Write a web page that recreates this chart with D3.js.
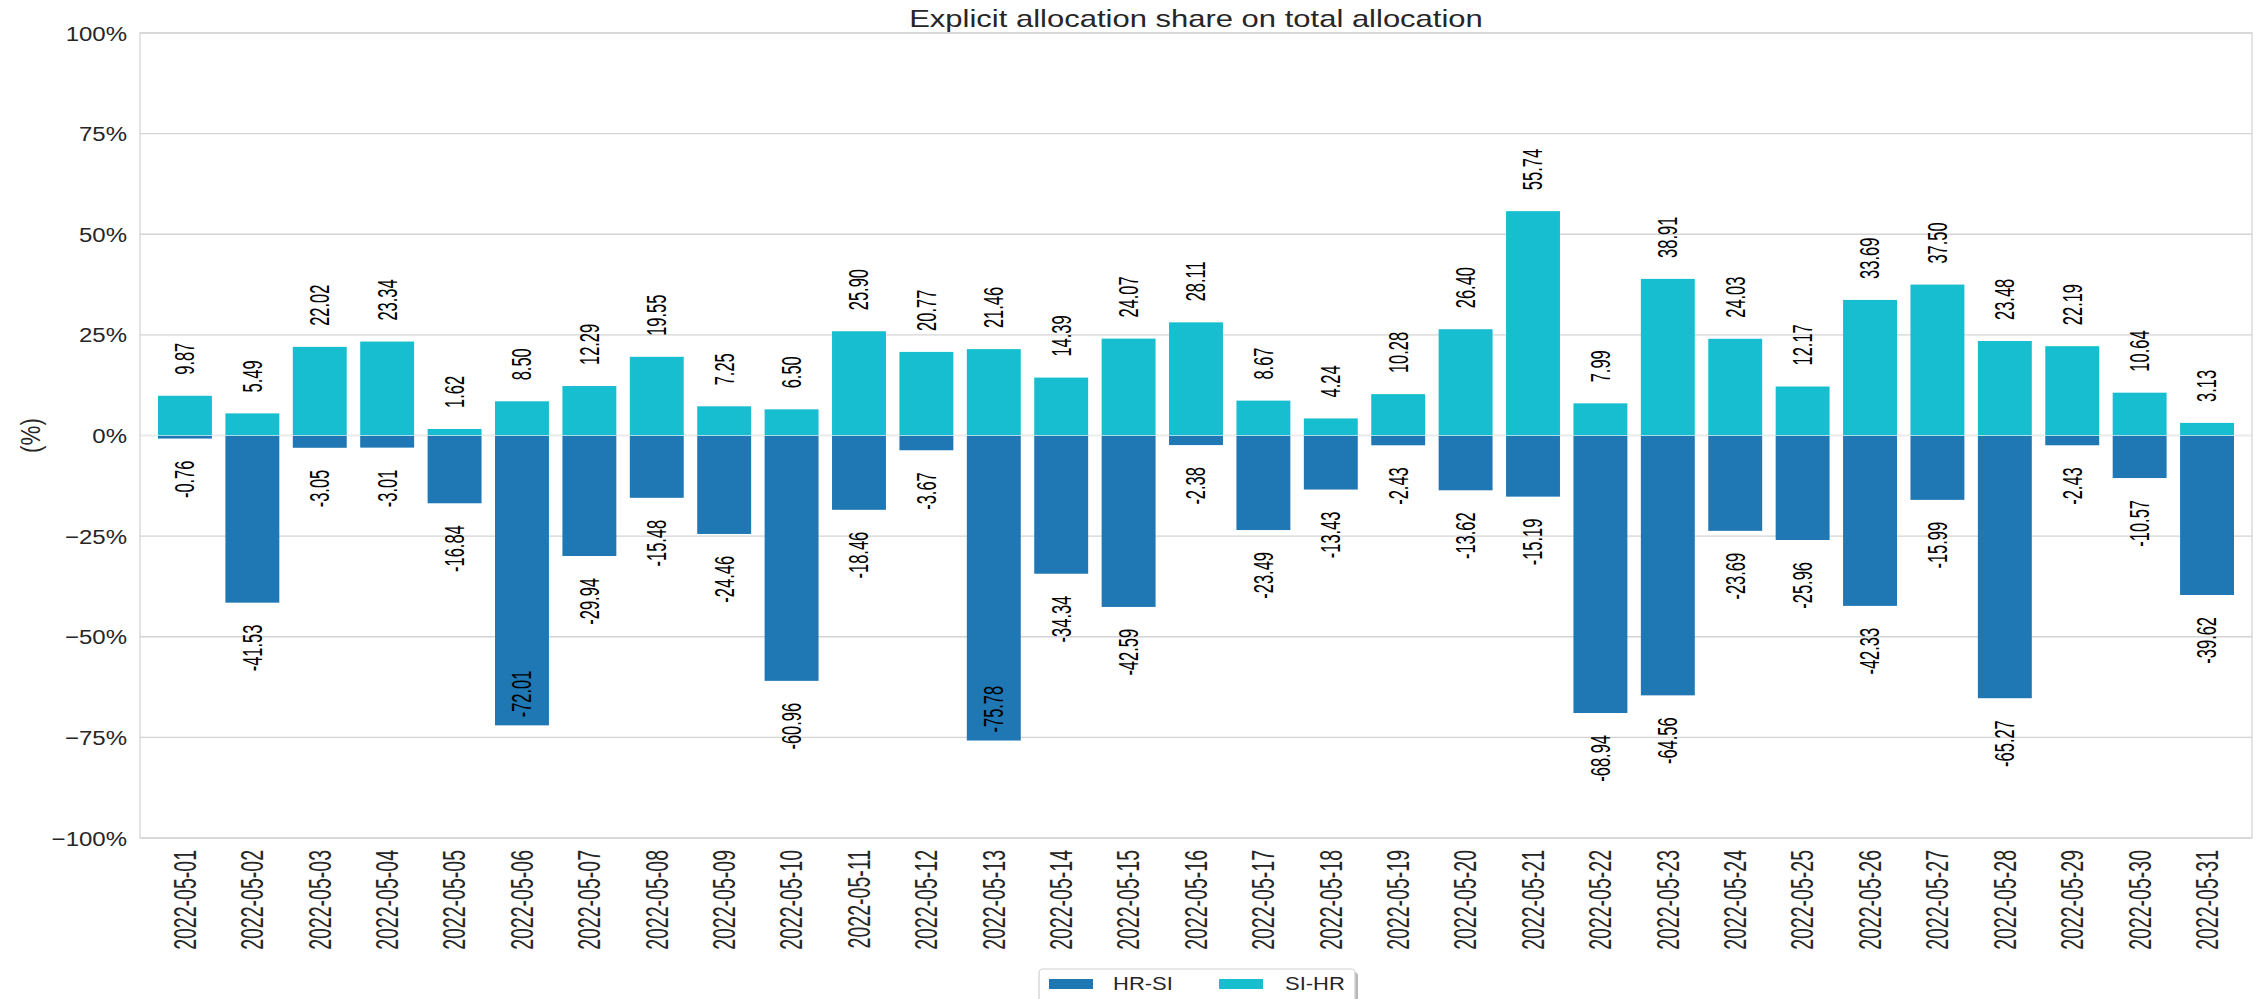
<!DOCTYPE html>
<html>
<head>
<meta charset="utf-8">
<script src="https://cdn.jsdelivr.net/npm/d3@7"></script>
<style>
  html, body { margin: 0; padding: 0; background: #fff; }
  svg { display: block; }
</style>
</head>
<body>
<svg id="chart" width="2259" height="999"></svg>
<script>
// Daily dates for May 2022
const dates = [
  "2022-05-01","2022-05-02","2022-05-03","2022-05-04","2022-05-05","2022-05-06","2022-05-07",
  "2022-05-08","2022-05-09","2022-05-10","2022-05-11","2022-05-12","2022-05-13","2022-05-14",
  "2022-05-15","2022-05-16","2022-05-17","2022-05-18","2022-05-19","2022-05-20","2022-05-21",
  "2022-05-22","2022-05-23","2022-05-24","2022-05-25","2022-05-26","2022-05-27","2022-05-28",
  "2022-05-29","2022-05-30","2022-05-31"
];

// Explicit allocation share, HR->SI direction (drawn as negative)
const hrSi = [
  -0.76, -41.53, -3.05, -3.01, -16.84, -72.01, -29.94, -15.48, -24.46, -60.96, -18.46,
  -3.67, -75.78, -34.34, -42.59, -2.38, -23.49, -13.43, -2.43, -13.62, -15.19, -68.94,
  -64.56, -23.69, -25.96, -42.33, -15.99, -65.27, -2.43, -10.57, -39.62
];

// Explicit allocation share, SI->HR direction
const siHr = [
  9.87, 5.49, 22.02, 23.34, 1.62, 8.50, 12.29, 19.55, 7.25, 6.50, 25.90,
  20.77, 21.46, 14.39, 24.07, 28.11, 8.67, 4.24, 10.28, 26.40, 55.74, 7.99,
  38.91, 24.03, 12.17, 33.69, 37.50, 23.48, 22.19, 10.64, 3.13
];

const yTickValues = [100, 75, 50, 25, 0, -25, -50, -75, -100];
const yTickLabels = ["100%", "75%", "50%", "25%", "0%", "\u221225%", "\u221250%", "\u221275%", "\u2212100%"];

const seriesNames = ["HR-SI", "SI-HR"];
const seriesColors = ["#1f77b4", "#17becf"];

const svg = d3.select("#chart");
const plot = { left: 140, right: 2252, top: 33, bottom: 838 };

const x = d3.scaleBand()
  .domain(dates)
  .range([plot.left, plot.right])
  .paddingInner(0.2)
  .paddingOuter(0.267);

const y = d3.scaleLinear()
  .domain([-100, 100])
  .range([plot.bottom, plot.top]);

const gridColor = "#d4d4d4";
const textColor = "#262626";

// Horizontal grid
svg.append("g")
  .selectAll("line")
  .data(yTickValues)
  .join("line")
  .attr("x1", plot.left).attr("x2", plot.right)
  .attr("y1", d => y(d)).attr("y2", d => y(d))
  .attr("stroke", gridColor)
  .attr("stroke-width", 1.3);

// Bars
const bars = svg.append("g");
bars.selectAll("rect.hrsi")
  .data(dates)
  .join("rect")
  .attr("class", "hrsi")
  .attr("x", d => x(d))
  .attr("width", x.bandwidth())
  .attr("y", (d, i) => y(0))
  .attr("height", (d, i) => y(hrSi[i]) - y(0))
  .attr("fill", seriesColors[0]);

bars.selectAll("rect.sihr")
  .data(dates)
  .join("rect")
  .attr("class", "sihr")
  .attr("x", d => x(d))
  .attr("width", x.bandwidth())
  .attr("y", (d, i) => y(siHr[i]))
  .attr("height", (d, i) => y(0) - y(siHr[i]))
  .attr("fill", seriesColors[1]);

// faint seam at zero across the bars
svg.append("line")
  .attr("x1", plot.left).attr("x2", plot.right)
  .attr("y1", y(0)).attr("y2", y(0))
  .attr("stroke", "rgba(255,255,255,0.55)")
  .attr("stroke-width", 1);

// Frame
svg.append("rect")
  .attr("x", plot.left).attr("y", plot.top)
  .attr("width", plot.right - plot.left)
  .attr("height", plot.bottom - plot.top)
  .attr("fill", "none")
  .attr("stroke", gridColor)
  .attr("stroke-width", 1.3);

// Value labels (rotated)
const valSize = 27, valScale = 0.61;
const labels = svg.append("g")
  .attr("font-family", "'Liberation Sans', Arial, sans-serif")
  .attr("font-size", valSize)
  .attr("fill", "#000");

labels.selectAll("text.pos")
  .data(dates)
  .join("text")
  .attr("class", "pos")
  .attr("text-anchor", "start")
  .attr("dy", "0.35em")
  .attr("transform", (d, i) => {
    const cx = x(d) + x.bandwidth() / 2;
    const yy = y(siHr[i]) - 21;
    return `translate(${cx},${yy}) rotate(-90) scale(${valScale},1)`;
  })
  .text((d, i) => siHr[i].toFixed(2));

labels.selectAll("text.neg")
  .data(dates)
  .join("text")
  .attr("class", "neg")
  .attr("text-anchor", (d, i) => hrSi[i] < -70 ? "start" : "end")
  .attr("dy", "0.35em")
  .attr("transform", (d, i) => {
    const cx = x(d) + x.bandwidth() / 2;
    const yy = hrSi[i] < -70 ? y(hrSi[i]) - 8 : y(hrSi[i]) + 22;
    return `translate(${cx},${yy}) rotate(-90) scale(${valScale},1)`;
  })
  .text((d, i) => hrSi[i].toFixed(2));

// Y axis
const yAxis = d3.axisLeft(y)
  .tickValues(yTickValues)
  .tickSize(0)
  .tickPadding(0)
  .tickFormat((d, i) => yTickLabels[i]);

const yg = svg.append("g")
  .attr("transform", `translate(${plot.left - 13},0)`)
  .call(yAxis);
yg.select(".domain").remove();
yg.selectAll("text")
  .attr("font-family", "'Liberation Sans', Arial, sans-serif")
  .attr("font-size", 24)
  .attr("fill", textColor)
  .attr("x", null)
  .attr("dy", null)
  .attr("transform", "translate(0,7) scale(1,0.84)");

// X axis
const xAxis = d3.axisBottom(x).tickSize(0).tickPadding(0);
const xg = svg.append("g")
  .attr("transform", `translate(0,${plot.bottom})`)
  .call(xAxis);
xg.select(".domain").remove();
xg.selectAll("text")
  .attr("font-family", "'Liberation Sans', Arial, sans-serif")
  .attr("font-size", 31)
  .attr("fill", textColor)
  .attr("text-anchor", "end")
  .attr("x", 0)
  .attr("y", 0)
  .attr("dy", "0.35em")
  .attr("transform", "translate(0,12) rotate(-90) scale(0.63,1)");

// Y axis title
svg.append("text")
  .attr("font-family", "'Liberation Sans', Arial, sans-serif")
  .attr("font-size", 27)
  .attr("fill", textColor)
  .attr("text-anchor", "middle")
  .attr("dy", "0.35em")
  .attr("transform", `translate(31,${y(0)}) rotate(-90) scale(0.83,1)`)
  .text("(%)");

// Chart title
svg.append("text")
  .attr("font-family", "'Liberation Sans', Arial, sans-serif")
  .attr("font-size", 31)
  .attr("fill", textColor)
  .attr("text-anchor", "middle")
  .attr("transform", `translate(${(plot.left + plot.right) / 2},27) scale(1,0.8)`)
  .text("Explicit allocation share on total allocation");

// Legend
const legend = svg.append("g");
const lgX = 1039, lgY = 969, lgW = 316, lgH = 44;
legend.append("rect")
  .attr("x", lgX + 3).attr("y", lgY + 3)
  .attr("width", lgW).attr("height", lgH)
  .attr("rx", 4)
  .attr("fill", "#8a8a8a")
  .attr("opacity", 0.6);
legend.append("rect")
  .attr("x", lgX).attr("y", lgY)
  .attr("width", lgW).attr("height", lgH)
  .attr("rx", 4)
  .attr("fill", "#fff")
  .attr("stroke", "#d0d0d0")
  .attr("stroke-width", 1.2);

const legendItems = [
  { name: seriesNames[0], color: seriesColors[0], px: 1049, tx: 1113 },
  { name: seriesNames[1], color: seriesColors[1], px: 1219, tx: 1285 }
];
legend.selectAll("rect.patch")
  .data(legendItems)
  .join("rect")
  .attr("class", "patch")
  .attr("x", d => d.px).attr("y", 979)
  .attr("width", 44).attr("height", 10)
  .attr("fill", d => d.color);
legend.selectAll("text")
  .data(legendItems)
  .join("text")
  .attr("font-family", "'Liberation Sans', Arial, sans-serif")
  .attr("font-size", 22)
  .attr("fill", textColor)
  .attr("transform", d => `translate(${d.tx},990) scale(1,0.83)`)
  .text(d => d.name);
</script>
</body>
</html>
